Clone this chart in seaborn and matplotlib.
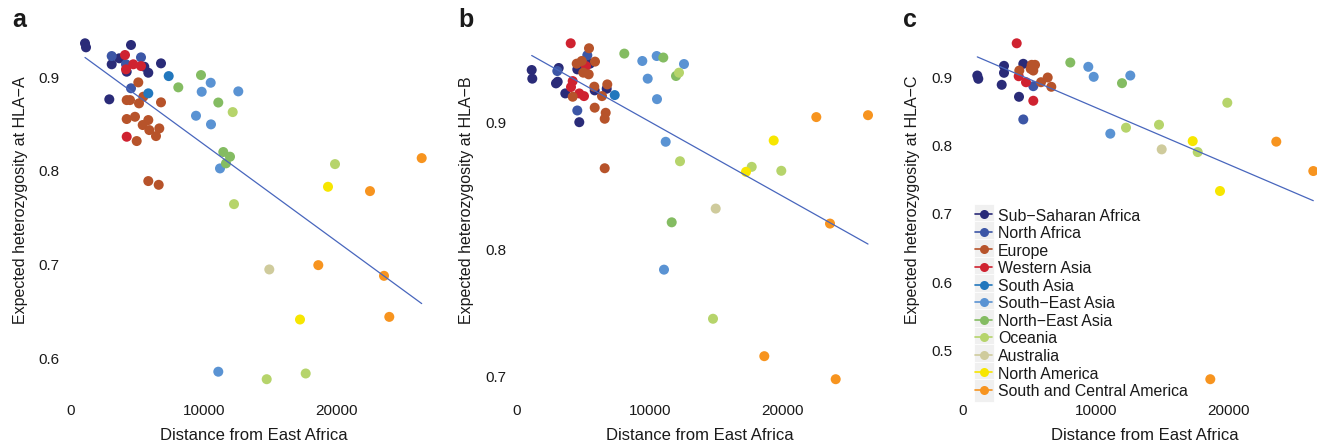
import numpy as np
import pandas as pd
import matplotlib
matplotlib.use("Agg")
import matplotlib.pyplot as plt
import seaborn as sns
from matplotlib.lines import Line2D
from matplotlib.patches import Rectangle
from matplotlib.legend_handler import HandlerLine2D

# ---------------- data ----------------
region_codes = ["SSA", "NAF", "EUR", "WAS", "SAS", "SEA", "NEA", "OCE", "AUS", "NAM", "SCA"]
region_names = ["Sub\u2212Saharan Africa", "North Africa", "Europe", "Western Asia", "South Asia",
                "South\u2212East Asia", "North\u2212East Asia", "Oceania", "Australia",
                "North America", "South and Central America"]
region_colors = ["#2a2b78", "#3c56a6", "#b7532a", "#cf2230", "#2277bd", "#5a93d3",
                 "#84bc62", "#b6d46b", "#cfcb9c", "#f7e600", "#f7941f"]

# Panel a: HLA-A
dist_a = [1053, 1128, 4511, 3632, 3060, 5511, 4188, 5812, 6767, 2880,
          3060, 4135, 5263, 4511,
          4060, 4684, 5263, 4135, 4188,
          5060, 4188, 4436, 5436, 5113, 6767, 4188, 4812, 5812, 5391, 5887, 6639, 4940, 6391, 5812, 6594,
          7346, 5812,
          10504, 9827, 12579, 9398, 10526, 11203, 11075,
          9774, 8068, 11075, 11451, 11955, 11654,
          12158, 12256, 19850, 14714, 17647,
          14910,
          19323, 17218,
          26368, 22481, 18594, 23534, 23932]
het_a = [0.936, 0.9317, 0.9342, 0.920, 0.9136, 0.911, 0.9057, 0.9046, 0.9146, 0.8762,
         0.9224, 0.9136, 0.921, 0.888,
         0.9235, 0.9136, 0.9117, 0.9082, 0.8363,
         0.8943, 0.8754, 0.8754, 0.879, 0.8719, 0.873, 0.8552, 0.8576, 0.8541, 0.8488, 0.8434, 0.8452, 0.8317, 0.837, 0.789, 0.785,
         0.901, 0.8826,
         0.8939, 0.8843, 0.8847, 0.8587, 0.8495, 0.8025, 0.5856,
         0.9021, 0.889, 0.8728, 0.820, 0.815, 0.8079,
         0.8626, 0.7644, 0.8071, 0.5776, 0.5837,
         0.6947,
         0.7829, 0.6413,
         0.8135, 0.7783, 0.6993, 0.6879, 0.6441]
reg_a = ["SSA"] * 10 + ["NAF"] * 4 + ["WAS"] * 5 + ["EUR"] * 16 + ["SAS"] * 2 + ["SEA"] * 7 + \
        ["NEA"] * 6 + ["OCE"] * 5 + ["AUS"] * 1 + ["NAM"] * 2 + ["SCA"] * 5

# Panel b: HLA-B
dist_b = [1105, 1150, 3135, 2932, 3060, 3632, 4534, 5489, 6744, 5842, 4684,
          3030, 5286, 4534,
          4038, 5188, 4188, 4060, 4684, 5038,
          5414, 4489, 4865, 5865, 4985, 5391, 4188, 5812, 6789, 6391, 5842, 6669, 6594, 6594,
          7346,
          10504, 9421, 12556, 9827, 10526, 11180, 11053,
          8068, 11000, 11955, 11632,
          12180, 12256, 17647, 19872, 14737,
          14940,
          19301, 17218,
          22504, 26391, 23534, 18594, 23962]
het_b = [0.9412, 0.9344, 0.9428, 0.9307, 0.932, 0.9228, 0.9417, 0.9462, 0.9265, 0.9252, 0.9002,
         0.9404, 0.9528, 0.9094,
         0.9622, 0.9443, 0.9325, 0.9278, 0.9228, 0.9207,
         0.9583, 0.9462, 0.9483, 0.9478, 0.9391, 0.9378, 0.9202, 0.9281, 0.9299, 0.9207, 0.9116, 0.9076, 0.9029, 0.864,
         0.9215,
         0.9522, 0.9483, 0.9459, 0.9344, 0.9183, 0.8848, 0.7843,
         0.9541, 0.951, 0.9365, 0.8215,
         0.9391, 0.8695, 0.8651, 0.862, 0.7457,
         0.8323,
         0.8858, 0.8612,
         0.9042, 0.9057, 0.8205, 0.7163, 0.6982]
reg_b = ["SSA"] * 11 + ["NAF"] * 3 + ["WAS"] * 6 + ["EUR"] * 14 + ["SAS"] * 1 + ["SEA"] * 7 + \
        ["NEA"] * 4 + ["OCE"] * 5 + ["AUS"] * 1 + ["NAM"] * 2 + ["SCA"] * 5

# Panel c: HLA-C
dist_c = [1075, 1150, 3083, 3083, 4534, 2910, 4211,
          5286, 4534,
          4038, 4188, 4737, 5286,
          5165, 5414, 5286, 5090, 4233, 5865, 6368, 6639,
          9421, 9827, 12579, 11075,
          8068, 11955,
          12256, 14737, 19872, 17647,
          14940,
          17271, 19323,
          23556, 26338, 18594]
het_c = [0.9029, 0.8981, 0.9171, 0.9069, 0.9201, 0.8893, 0.8717,
         0.8873, 0.8385,
         0.9502, 0.9019, 0.8931, 0.8659,
         0.9186, 0.9186, 0.9102, 0.9127, 0.9102, 0.8931, 0.900, 0.8864,
         0.9157, 0.901, 0.9029, 0.8176,
         0.922, 0.8917,
         0.8264, 0.8307, 0.863, 0.7906,
         0.7946,
         0.8067, 0.7335,
         0.8059, 0.7628, 0.4574]
reg_c = ["SSA"] * 7 + ["NAF"] * 2 + ["WAS"] * 4 + ["EUR"] * 8 + ["SEA"] * 4 + \
        ["NEA"] * 2 + ["OCE"] * 4 + ["AUS"] * 1 + ["NAM"] * 2 + ["SCA"] * 3

panel_letters = ["a", "b", "c"]
y_labels = ["Expected heterozygosity at HLA\u2212A",
            "Expected heterozygosity at HLA\u2212B",
            "Expected heterozygosity at HLA\u2212C"]
x_label = "Distance from East Africa"
x_ticks = [0, 10000, 20000]
y_ticks_a = [0.6, 0.7, 0.8, 0.9]
y_ticks_b = [0.7, 0.8, 0.9]
y_ticks_c = [0.5, 0.6, 0.7, 0.8, 0.9]

# ---------------- style ----------------
sns.set_theme(style="white")
plt.rcParams["font.family"] = ["Liberation Sans", "DejaVu Sans"]
plt.rcParams["axes.unicode_minus"] = True

W, H = 1317, 444
fig = plt.figure(figsize=(W / 100, H / 100), dpi=100)

name_of = dict(zip(region_codes, region_names))
palette = dict(zip(region_names, region_colors))

px_per_unit = 0.0133          # pixels per distance unit
zero_px = [71, 517, 963]      # pixel position of distance 0
ax_top_px, ax_bot_px = 26.5, 396.0

panels = [(dist_a, het_a, reg_a, y_ticks_a),
          (dist_b, het_b, reg_b, y_ticks_b),
          (dist_c, het_c, reg_c, y_ticks_c)]

axes = []
for i, (d, h, r, yt) in enumerate(panels):
    df = pd.DataFrame({"dist": d, "het": h, "region": [name_of[c] for c in r]})
    xlo, xhi = min(d), max(d)
    xpad = 0.05 * (xhi - xlo)
    ylo, yhi = min(h), max(h)
    ypad = 0.05 * (yhi - ylo)
    x0 = xlo - xpad
    x1 = xhi + xpad
    left_px = zero_px[i] + x0 * px_per_unit
    right_px = zero_px[i] + x1 * px_per_unit
    ax = fig.add_axes([left_px / W, 1 - ax_bot_px / H, (right_px - left_px) / W,
                       (ax_bot_px - ax_top_px) / H])
    sns.scatterplot(data=df, x="dist", y="het", hue="region", hue_order=region_names,
                    palette=palette, s=52, linewidth=0, alpha=1, legend=False, ax=ax, zorder=3)
    sns.regplot(data=df, x="dist", y="het", scatter=False, ci=None, truncate=True,
                line_kws={"color": "#4866bd", "lw": 0.9, "zorder": 4}, ax=ax)
    ax.set_xlim(x0, x1)
    ax.set_ylim(ylo - ypad, yhi + ypad)
    ax.set_xticks(x_ticks)
    ax.set_xticklabels([str(t) for t in x_ticks])
    ax.set_yticks(yt)
    ax.set_yticklabels([f"{t:.1f}" for t in yt])
    ax.tick_params(axis="both", length=0, labelsize=11, colors="#1a1a1a", pad=6)
    for s in ax.spines.values():
        s.set_visible(False)
    ax.set_facecolor("none")
    ax.grid(False)
    ax.set_xlabel(x_label, fontsize=12, color="#1a1a1a", labelpad=7)
    ax.set_ylabel(y_labels[i], fontsize=11.5, color="#1a1a1a")
    # centre the y title at pixel row ~200, column ~50 px left of the zero tick
    label_x_px = zero_px[i] - 50
    ax.yaxis.set_label_coords((label_x_px - left_px) / (right_px - left_px),
                              (ax_bot_px - 200) / (ax_bot_px - ax_top_px))
    ax.yaxis.label.set_va("center")
    axes.append(ax)
    fig.text([12, 458, 903][i] / W, 1 - 27 / H, panel_letters[i], fontsize=18,
             fontweight="bold", color="#1a1a1a", ha="left", va="baseline")


class KeyHandler(HandlerLine2D):
    def create_artists(self, legend, orig_handle, xdescent, ydescent, width, height,
                       fontsize, trans):
        rect = Rectangle((-xdescent - 1, -ydescent - 3), width + 2, height + 6,
                         facecolor="#f0f0f0", edgecolor="white", lw=0.6, transform=trans)
        arts = super().create_artists(legend, orig_handle, xdescent, ydescent, width, height,
                                      fontsize, trans)
        return [rect] + arts


handles = [Line2D([0], [0], color=c, marker="o", markersize=6.5, lw=1.2, markeredgewidth=0)
           for c in region_colors]
leg = fig.legend(handles, region_names, loc="upper left",
                 bbox_to_anchor=(975 / W, 1 - 208 / H), frameon=False, fontsize=11.4,
                 handlelength=1.1, handleheight=1.0, handletextpad=0.35, labelspacing=0.13,
                 borderpad=0, borderaxespad=0,
                 handler_map={Line2D: KeyHandler()})
for t in leg.get_texts():
    t.set_color("#1a1a1a")

fig.savefig("out.png", dpi=100)
